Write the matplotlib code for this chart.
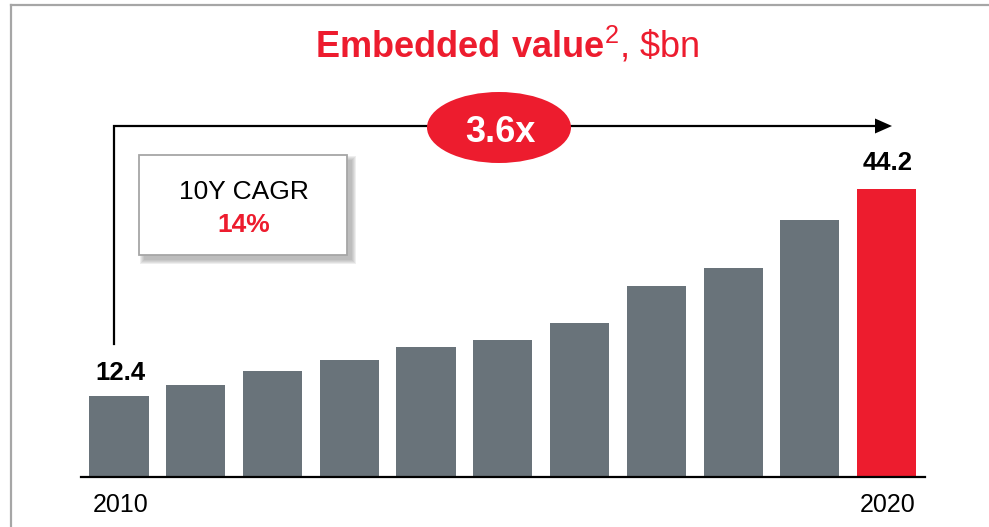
import matplotlib
matplotlib.use('Agg')
import matplotlib.pyplot as plt
import numpy as np
from matplotlib.patches import Ellipse, Rectangle, Polygon
from matplotlib.lines import Line2D

# ---- data ----
years = [2010, 2011, 2012, 2013, 2014, 2015, 2016, 2017, 2018, 2019, 2020]
values = [12.4, 14.0, 16.2, 17.9, 19.9, 21.0, 23.6, 29.3, 32.0, 39.4, 44.2]
multiple_label = "3.6x"
cagr_title = "10Y CAGR"
cagr_value = "14%"

GREY = '#69737A'
RED = '#ED1C2E'

plt.rcParams['font.family'] = ['Liberation Sans', 'DejaVu Sans']
plt.rcParams['mathtext.fontset'] = 'custom'
plt.rcParams['mathtext.rm'] = 'Liberation Sans'
plt.rcParams['mathtext.bf'] = 'Liberation Sans:bold'

W, H = 989, 527
fig = plt.figure(figsize=(W / 100, H / 100), dpi=100)
fig.patch.set_facecolor('white')

def fx(x):
    return x / W

def fy(y):
    return 1 - y / H

PX = 0.72  # points per pixel at dpi 100

# ---- axes & bars ----
base_px, top_px = 476.5, 90
ax = fig.add_axes([fx(81), fy(base_px), (925 - 81) / W, (base_px - top_px) / H])
x = np.arange(len(years))
colors = [GREY] * (len(years) - 1) + [RED]
ax.bar(x, values, width=0.77, color=colors, zorder=2)
ax.set_xlim(-0.495, len(years) - 1 + 0.50)
ax.set_ylim(0, (base_px - top_px) / 6.51)
for s in ['top', 'right', 'left']:
    ax.spines[s].set_visible(False)
ax.spines['bottom'].set_linewidth(1.6)
ax.spines['bottom'].set_color('black')
ax.set_xticks([])
ax.set_yticks([])
ax.patch.set_alpha(0)

# value labels (first & last)
ax.annotate(f"{values[0]}", xy=(x[0], values[0]), xytext=(1, 15.5 * PX),
            textcoords='offset points', ha='center', va='baseline',
            fontsize=18.5, fontweight='bold', color='black')
ax.annotate(f"{values[-1]}", xy=(x[-1], values[-1]), xytext=(1, 19 * PX),
            textcoords='offset points', ha='center', va='baseline',
            fontsize=18.5, fontweight='bold', color='black')

# year labels (first & last)
for i in [0, len(years) - 1]:
    ax.annotate(str(years[i]), xy=(x[i], 0), xycoords=('data', 'axes fraction'),
                xytext=(1, -35 * PX), textcoords='offset points',
                ha='center', va='baseline', fontsize=18, color='black')

# ---- frame lines ----
fig.add_artist(Line2D([fx(11), fx(11)], [fy(H + 2), fy(5)], color='#A6A6A6',
                      lw=1.6, transform=fig.transFigure))
fig.add_artist(Line2D([fx(11), fx(W + 2)], [fy(5), fy(5)], color='#A6A6A6',
                      lw=1.6, transform=fig.transFigure))

# ---- title ----
fig.text(fx(507.5), fy(57), r"$\mathbf{Embedded\ value}^{\mathrm{2}}$, \$bn",
         ha='center', va='baseline', fontsize=26, color=RED)

# ---- growth arrow ----
fig.add_artist(Line2D([fx(114), fx(114), fx(878)], [fy(344), fy(126), fy(126)],
                      color='black', lw=1.6, transform=fig.transFigure,
                      solid_joinstyle='miter'))
fig.add_artist(Polygon([[fx(875), fy(118.5)], [fx(892), fy(126)], [fx(875), fy(133.5)]],
                       closed=True, facecolor='black', edgecolor='none',
                       transform=fig.transFigure))
fig.add_artist(Ellipse((fx(499), fy(127.5)), 144 / W, 71 / H, facecolor=RED,
                       edgecolor='none', transform=fig.transFigure, zorder=5))
fig.text(fx(500), fy(142.3), multiple_label, ha='center', va='baseline',
         fontsize=26, fontweight='bold', color='white', zorder=6)

# ---- CAGR box with shadow ----
bx0, by0, bx1, by1 = 139, 155, 347, 255
for k in range(5):
    fig.add_artist(Rectangle((fx(bx0 + 5 - k), fy(by1 + 5 + k)),
                             (bx1 - bx0 + 2 * k) / W, (by1 - by0 + 2 * k) / H,
                             facecolor='#7F7F7F', edgecolor='none', alpha=0.13,
                             transform=fig.transFigure, zorder=3))
fig.add_artist(Rectangle((fx(bx0), fy(by1)), (bx1 - bx0) / W, (by1 - by0) / H,
                         facecolor='white', edgecolor='#A6A6A6', lw=1.3,
                         transform=fig.transFigure, zorder=4))
fig.text(fx(243.5), fy(199.3), cagr_title, ha='center', va='baseline',
         fontsize=19, color='black', zorder=6)
fig.text(fx(243.5), fy(231.7), cagr_value, ha='center', va='baseline',
         fontsize=19, fontweight='bold', color=RED, zorder=6)

fig.savefig('out.png', dpi=100)
